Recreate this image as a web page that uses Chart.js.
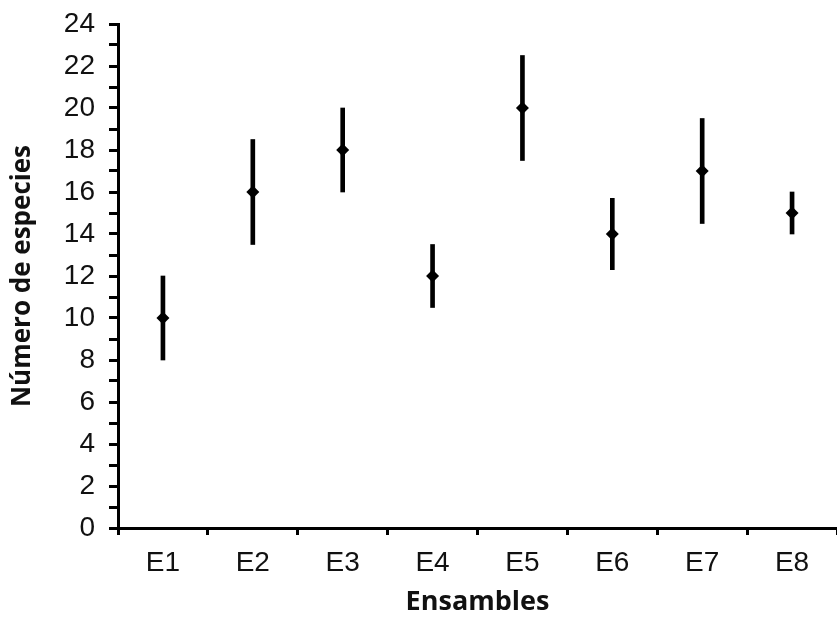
<!DOCTYPE html>
<html>
<head>
<meta charset="utf-8">
<script src="https://cdn.jsdelivr.net/npm/chart.js@4"></script>
<style>
  html, body { margin: 0; padding: 0; background: #fff; }
  #wrap { width: 837px; height: 622px; }
</style>
</head>
<body>
<div id="wrap"><canvas id="chart" width="837" height="622"></canvas></div>
<script>
"use strict";
const categories = ["E1", "E2", "E3", "E4", "E5", "E6", "E7", "E8"];
const means = [10, 16, 18, 12, 20, 14, 17, 15];
const lows = [8, 13.5, 16, 10.5, 17.5, 12.3, 14.5, 14];
const highs = [12, 18.5, 20, 13.5, 22.5, 15.7, 19.5, 16];
const yTicks = [0, 2, 4, 6, 8, 10, 12, 14, 16, 18, 20, 22, 24];

const ranges = categories.map((c, i) => [lows[i], highs[i]]);
const tickFont = { family: "'Liberation Sans', Arial, sans-serif", size: 28 };
const titleFont = { family: "'Open Sans', sans-serif", size: 26, weight: "bold" };

new Chart("chart", {
    type: "bar",
    data: {
        labels: categories,
        datasets: [{
                type: "line",
                label: "Media",
                data: means,
                showLine: false,
                pointStyle: "rectRot",
                pointRadius: 6.5,
                pointHoverRadius: 6.5,
                backgroundColor: "#000",
                borderColor: "#000",
                borderWidth: 0,
                clip: false,
            }, {
                label: "Rango",
                data: ranges,
                backgroundColor: "#000",
                barThickness: 4,
            }],
    },
    options: {
        responsive: false,
        animation: false,
        layout: { autoPadding: false, padding: { top: 24, right: 0, left: 0, bottom: 0 } },
        plugins: { legend: { display: false }, tooltip: { enabled: false } },
        scales: {
            x: {
                grid: { display: true, drawOnChartArea: false, drawTicks: true, tickLength: 7, lineWidth: 3, color: "#000", offset: true },
                border: { display: true, color: "#000", width: 3 },
                ticks: { color: "#111", font: tickFont, padding: 11 },
                title: { display: true, text: "Ensambles", color: "#111", font: { ...titleFont, size: 27 }, padding: { top: 0, bottom: 3 } },
                afterFit: s => { s.height = 94; s.paddingLeft = 0; s.paddingRight = 0; },
            },
            y: {
                min: 0,
                max: 24,
                grid: { display: true, drawOnChartArea: false, drawTicks: true, tickLength: 9, lineWidth: 3, color: "#000" },
                border: { display: true, color: "#000", width: 3 },
                ticks: {
                    stepSize: 1,
                    autoSkip: false,
                    color: "#111",
                    font: tickFont,
                    padding: 14,
                    callback: v => (yTicks.includes(v) ? String(v) : ""),
                },
                title: { display: true, text: "Número de especies", color: "#111", font: titleFont, padding: { top: 7, bottom: 0 } },
                afterFit: s => { s.width = 118; s.paddingTop = 0; s.paddingBottom = 0; },
            },
        },
    },
});
</script>
</body>
</html>
